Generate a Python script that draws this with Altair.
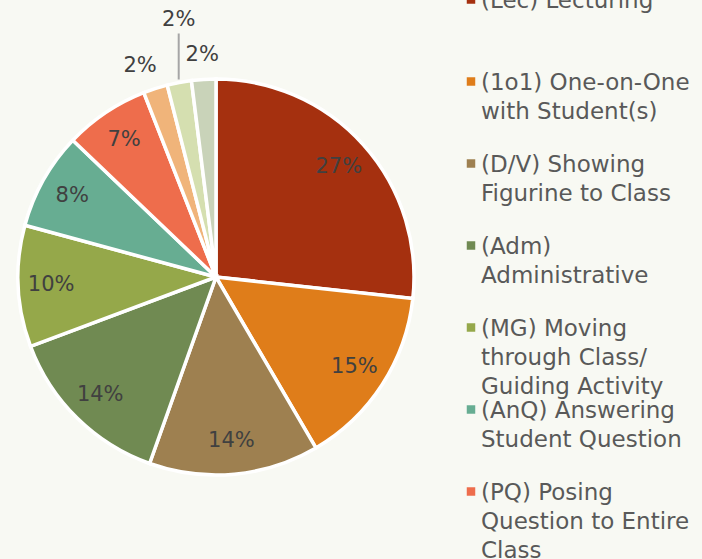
import altair as alt
import pandas as pd

# ---- data ----
categories = [
    "(Lec) Lecturing",
    "(1o1) One-on-One\nwith Student(s)",
    "(D/V) Showing\nFigurine to Class",
    "(Adm)\nAdministrative",
    "(MG) Moving\nthrough Class/\nGuiding Activity",
    "(AnQ) Answering\nStudent Question",
    "(PQ) Posing\nQuestion to Entire\nClass",
    "Other 1",
    "Other 2",
    "Other 3",
]
values = [27, 15, 14, 14, 10, 8, 7, 2, 2, 2]
colors = ["#A5300F", "#DF7D1A", "#9E8050", "#708A52", "#95A84A",
          "#67AD92", "#EE6D4C", "#F0B47A", "#D5DFB0", "#C9D3B9"]

df = pd.DataFrame({"idx": list(range(len(values))), "category": categories, "value": values})
legend_df = pd.DataFrame({"idx": list(range(len(categories))), "label": categories})

# ---- layout constants ----
CX, CY, R = 216, 277, 198
FONT = "DejaVu Sans"
LEG_TOP, PITCH = -9.6, 82

color_scale = alt.Scale(domain=categories, range=colors)

pie = alt.Chart(df).mark_arc(radius=R, stroke="white", strokeWidth=3.5).encode(
    theta=alt.Theta("value:Q", stack=True),
    order=alt.Order("idx:Q"),
    color=alt.Color("category:N", scale=color_scale, legend=None),
)

# mid-angle of each slice, computed from the data
angles = alt.Chart(df).transform_joinaggregate(
    total="sum(value)"
).transform_window(
    cum="sum(value)", sort=[alt.SortField("idx")], frame=[None, 0]
).transform_calculate(
    mid="(datum.cum - datum.value/2) / datum.total * 2 * PI",
    lbl="datum.value + '%'",
)

labels = angles.transform_filter("datum.idx != 8").transform_calculate(
    lr="datum.value >= 5 ? 165 : 222",
    ldx="datum.idx == 7 ? -8 : 0",
).transform_calculate(
    tx=f"{CX} + datum.lr * sin(datum.mid) + datum.ldx",
    ty=f"{CY} - datum.lr * cos(datum.mid)",
).mark_text(font=FONT, fontSize=21, color="#404040").encode(
    x=alt.X("tx:Q", scale=None),
    y=alt.Y("ty:Q", scale=None),
    text="lbl:N",
)

leader_base = angles.transform_filter("datum.idx == 8").transform_calculate(
    lx=f"{CX} + {R + 3} * sin(datum.mid)",
    ly=f"{CY} - {R + 3} * cos(datum.mid)",
).transform_calculate(
    ly2="datum.ly - 46",
    ty="datum.ly - 59",
)

leader = leader_base.mark_rule(color="#A6A6A6", strokeWidth=2).encode(
    x=alt.X("lx:Q", scale=None),
    y=alt.Y("ly:Q", scale=None),
    y2="ly2:Q",
)
leader_label = leader_base.mark_text(font=FONT, fontSize=21, color="#404040").encode(
    x=alt.X("lx:Q", scale=None),
    y=alt.Y("ty:Q", scale=None),
    text="lbl:N",
)

leg_text = alt.Chart(legend_df).transform_calculate(
    ty=f"{LEG_TOP} + {PITCH} * datum.idx"
).mark_text(
    align="left", baseline="top", lineBreak="\n", font=FONT,
    fontSize=23, lineHeight=29, color="#595959"
).encode(
    x=alt.value(481),
    y=alt.Y("ty:Q", scale=None),
    text="label:N",
)

leg_sym = alt.Chart(legend_df).transform_calculate(
    sy=f"{LEG_TOP + 9.1} + {PITCH} * datum.idx"
).mark_square(size=72, opacity=1).encode(
    x=alt.value(471),
    y=alt.Y("sy:Q", scale=None),
    color=alt.Color("label:N", scale=color_scale, legend=None),
)

chart = alt.layer(pie, labels, leader, leader_label, leg_sym, leg_text).properties(
    width=432,
    height=554,
    autosize=alt.AutoSizeParams(type="none"),
    padding={"left": 0, "top": 0, "right": 270, "bottom": 5},
    background="#F8F9F3",
).configure_view(stroke=None)

chart.save("out.html", embed_options={"renderer": "svg", "actions": False})
